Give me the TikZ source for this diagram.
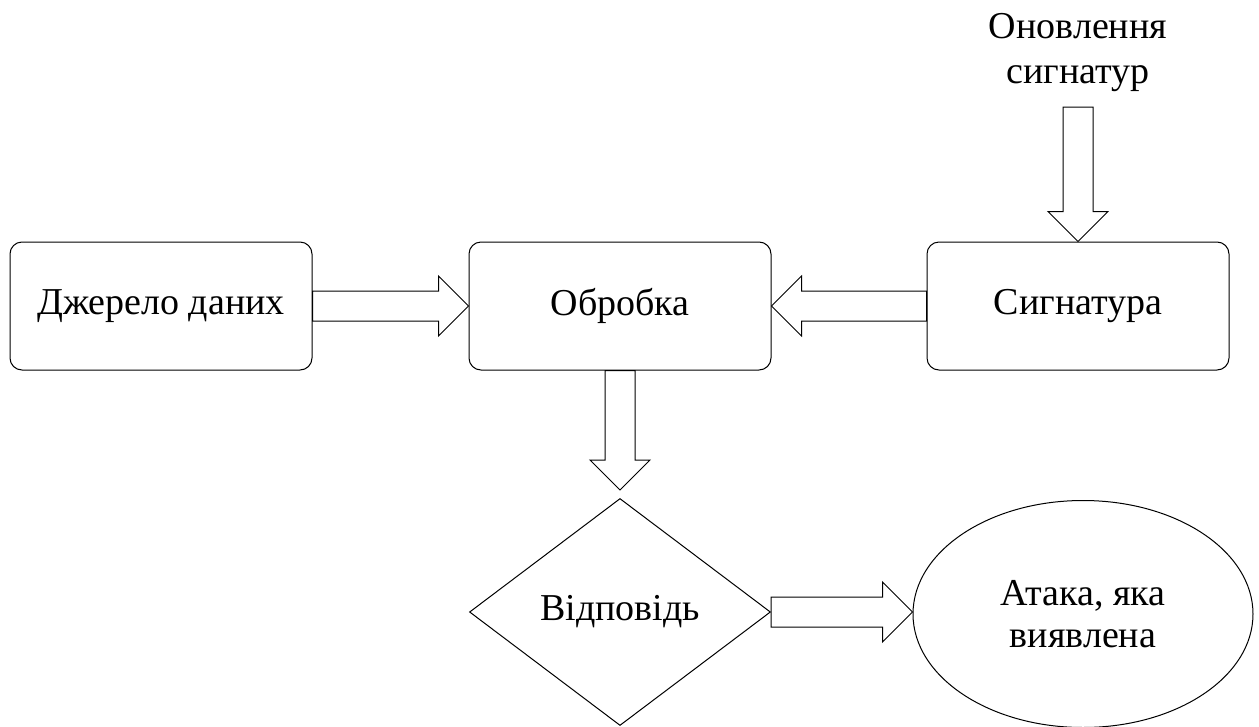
\documentclass[tikz,border=0pt]{standalone}
\usepackage{fontspec}
\setmainfont{Liberation Serif}
\usetikzlibrary{shapes.geometric,calc}
\begin{document}
\begin{tikzpicture}[x=1pt,y=-1pt,line width=1pt,
	every node/.style={font=\fontsize{38}{42}\selectfont,align=center},
	block/.style={draw,rounded corners=12pt,minimum width=302pt,minimum height=128pt,inner sep=0},
	decision/.style={draw,diamond,minimum width=301pt,minimum height=227pt,inner sep=0},
	result/.style={draw,ellipse,minimum width=340pt,minimum height=227pt,inner sep=0},
	fat/.style={to path={
		($(\tikztostart)!15pt!90:(\tikztotarget)$)
		-- ($(\tikztotarget)!33.54pt!-26.57:(\tikztostart)$)
		-- ($(\tikztotarget)!42.43pt!-45:(\tikztostart)$)
		-- (\tikztotarget)
		-- ($(\tikztotarget)!42.43pt!45:(\tikztostart)$)
		-- ($(\tikztotarget)!33.54pt!26.57:(\tikztostart)$)
		-- ($(\tikztostart)!15pt!-90:(\tikztotarget)$) -- cycle}}]
\useasboundingbox (0,0) rectangle (1259,726);
\node[block] (src) at (161,306) {Джерело даних};
\node[block] (proc) at (620,306) {Обробка};
\node[block] (sig) at (1078,306) {Сигнатура};
\node[font=\fontsize{38}{45}\selectfont] (upd) at (1078,53) {Оновлення\\сигнатур};
\coordinate (feed) at (1078,107);
\node[decision] (resp) at (620,612) {Відповідь};
\node[result] (att) at (1083,614) {Атака, яка\\виявлена};
% block arrows
\draw (src.east) to[fat] (proc.west);
\draw (sig.west) to[fat] (proc.east);
\draw (feed) to[fat] (sig.north);
\draw (proc.south) to[fat] ([yshift=8pt]resp.north);
\draw (resp.east) to[fat] ([yshift=2pt]att.west);
\end{tikzpicture}
\end{document}
